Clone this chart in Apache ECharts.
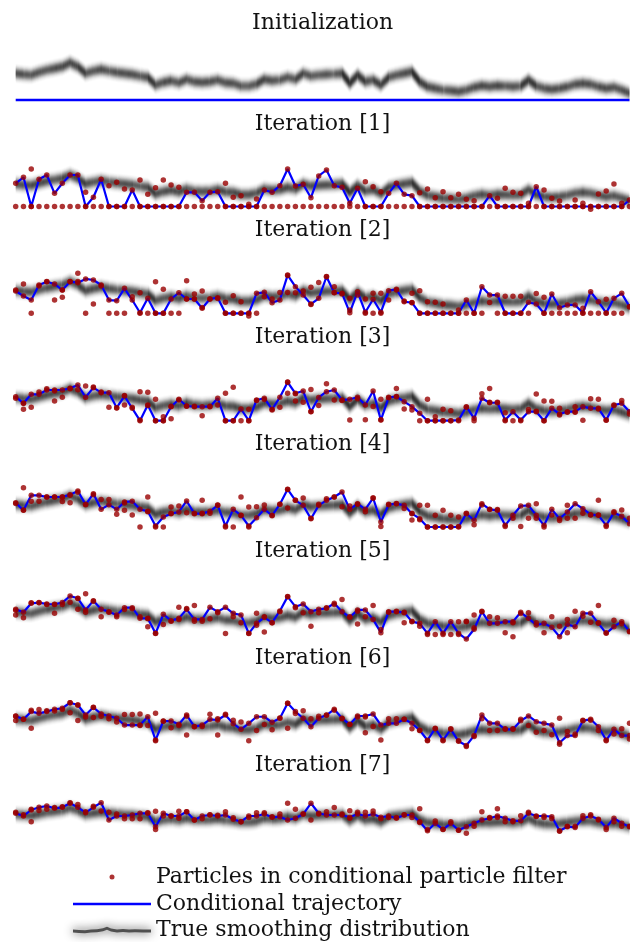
<!DOCTYPE html>
<html><head><meta charset="utf-8">
<script src="https://cdn.jsdelivr.net/npm/echarts@6/dist/echarts.min.js"></script>
<style>html,body{margin:0;padding:0;background:#fff}#c{width:630px;height:942px}</style>
</head><body><div id="c"></div>
<script>
const titles = ['Initialization','Iteration [1]','Iteration [2]','Iteration [3]','Iteration [4]','Iteration [5]','Iteration [6]','Iteration [7]'];
const legendNames = ['Particles in conditional particle filter','Conditional trajectory','True smoothing distribution'];

const band = [26.7,25.7,25,27.7,30,31.7,33.3,37.3,33.3,26.7,
 29,30.7,29,27.7,26.7,25.7,24,22.7,15,17.7,
 19.3,17.3,20.7,18.3,17.7,18.3,20,17.3,16.7,14,
 14,16,20.7,19.3,20,22.7,20.7,26.7,24,25,
 25.7,26,26.7,16.7,25,18.3,20,15,22.7,25,
 26.7,28.3,18.3,13.3,11.7,10,9.3,8.3,10,12.7,
 14.3,13.3,14.3,14,13.3,14,20,14,11.7,10.7,
 11.7,13.3,15.7,16.7,15.7,13.3,11.7,12.7,10,6.7];

const traj0 = [0,0,0,0,0,0,0,0,0,0, 0,0,0,0,0,0,0,0,0,0, 0,0,0,0,0,0,0,0,0,0, 0,0,0,0,0,0,0,0,0,0,
 0,0,0,0,0,0,0,0,0,0, 0,0,0,0,0,0,0,0,0,0, 0,0,0,0,0,0,0,0,0,0, 0,0,0,0,0,0,0,0,0,0];

const traj1 = [27.5,34.6,0,32.2,37.3,15.6,27.5,37.3,37.3,0,
 11,32.2,0,0,0,19.5,0,0,0,0,
 0,0,16.8,16.8,6.9,16.8,17.5,0,0,0,
 0,0,19.5,16.8,24.6,44.4,24.3,26.3,10.4,36.1,
 43.2,24.6,22.7,3.8,21.5,0,0,0,15.6,27.5,
 14.4,12.8,0,0,0,0,0,0,0,0,
 0,12.8,0,0,0,0,0,23.4,0,0,
 0,0,0,0,0,0,0,0,0,7.7];
const traj2 = [26.2,20.4,15.6,33.3,37.2,34.5,27.4,37.2,36,40.4,
 39.2,33.3,15.6,14.8,29.4,15.6,0.7,17.6,0,0,
 16.8,24.2,16.8,16.8,5.9,16.8,18.4,0,0,0,
 0,23.5,24.7,12.5,15.6,45,31.3,21.5,10.8,17.6,
 43,24.2,23.5,0.7,25.4,1.2,16.5,1.2,26.6,28.2,
 13.6,12.5,0,0,0,0,0,0,15.6,0,
 31.3,21.5,21.5,0,0,0,12.9,10.9,0,22.7,
 6.6,9.8,9.8,0.5,25.4,13.6,0.5,17.6,23.5,7.8];
const traj3 = [27.9,20.2,30.7,30.7,35.7,35.7,35.7,37.7,41.5,27.2,
 38.4,32.6,32.6,15.1,28.7,14.4,0,18.3,0,0,
 16.3,24.9,17.1,16.3,16.3,16.3,26.1,0,0,13.6,
 0,24.1,26.1,13.3,27.2,44.7,31.9,34.5,10.5,27,
 33.7,35.7,24.1,24.9,27.2,18.3,34.5,0.7,27.2,27.9,
 22.1,16.3,8.6,0,0,0,0,0.7,16.3,2.8,
 26.1,20.9,20.9,0.7,10.5,0.7,10.5,10.5,0,14.4,
 7.8,10.5,10.5,16.3,14.4,14.4,0.7,18.3,20.2,10.5];
const traj4 = [28.9,19.8,37.7,37.7,35.7,35.7,35.7,38.5,42.9,26.6,
 39.7,21,26.6,21,29.8,30.6,21,18.7,1.2,11.9,
 15.9,17.9,31,15.9,15.9,18.7,25.8,1.2,21,13.9,
 1.2,11.1,21,13.9,27,44.9,31.7,25.8,9.9,25.8,
 31.7,35.7,41.7,21,27.8,21,34.5,6,26.6,27.8,
 25.8,15.9,9.9,0,0,0,0,0,15.9,8,
 27.8,21,19.8,2,13.9,25,25.8,13.9,2,21,
 9.9,17.9,27.8,21.8,14.7,13.9,2,17.1,12.7,4];
const traj5 = [30,26.4,37.1,38,36.3,36,38,45.8,43.1,29.2,
 40.3,30,27.2,23.2,31.9,31.9,19.2,19.2,1.4,24,
 16.5,19.2,30,18,18,32.4,27.2,32.4,25.2,23.2,
 1.4,13.3,20.4,14.1,28,45.1,33.1,36.3,27.2,30,
 31.2,37.1,27.2,20.4,29.2,29.2,18,2.2,27.2,27.2,
 26.4,15.3,13.3,1.4,15.3,1.4,15.3,1.4,-5.4,6.2,
 27.2,13.3,13.3,15.3,15.3,26.4,19.2,11.3,13.3,8.5,
 -2.6,12.1,9.3,25.2,25.2,13.3,1.4,9.3,15.3,3.4];
const traj6 = [30.3,26.4,35.4,33.4,35.4,38.1,39.3,45.8,43.1,31.4,
 40.4,32.6,30.3,27.6,19.7,19.7,19.7,29.4,2.2,24.4,
 24.4,20.6,31.4,17.8,19.7,26.4,25.6,31.4,21.3,14.7,
 21.7,29.4,29.4,22.9,27.6,45.1,35.4,27.6,17.8,27.6,
 31.4,38.1,27.6,20.6,30.3,30.3,32.6,19.7,21.7,21.7,
 26.4,21.7,13.6,2,15.9,2.2,14.7,0.7,-4.1,7.4,
 31.4,21.7,21.7,14.7,14.7,24.8,30.3,23.6,21.7,19.7,
 -0.9,7.4,7.4,24.8,26.4,17.8,2.2,14.7,7.4,7.4];
const traj7 = [28.7,24.3,34.1,38.5,40.7,36.9,38.5,45.1,38.5,29.7,
 38.5,46.1,17.7,24.3,24.3,25.9,28.7,28.7,6.7,28.7,
 24.3,24.3,31.3,17.7,24.3,25.9,24.3,25.9,18.9,14.9,
 24.3,24.3,27.5,22.1,23.2,17.7,20.5,27.5,45.1,28.7,
 25.9,25.9,25.9,22.1,27.5,24.3,27.5,22.1,24.3,20.5,
 25.9,25.9,14.9,0.1,12.3,2.5,12.3,1.1,6.7,12.3,
 17.7,20.5,24.3,20.5,16.3,16.3,28.7,24.3,24.3,23.2,
 0.1,6.7,5.6,20.5,24.3,18.9,5.6,20.5,12.3,6.7];

const extra1 = [[2,44.4],[9,16.8],[12,24.6],[13,28.6],[14,20.7],[16,31.4],[17,14.4],[18,22.2],[19,31.4],[20,25.4],[21,22.7],[27,27.5],[28,10.9],[29,12.8],[30,2.6],[31,8.9],[45,29.4],[46,23.4],[47,17.5],[52,16.3],[53,20.7],[54,10.4],[55,17.5],[56,10.4],[57,14.4],[58,8.5],[59,6.9],[62,9.7],[63,21.5],[64,16.8],[65,15.6],[66,3.8],[68,19.5],[69,9.7],[70,6.5],[72,7.7],[73,3.8],[74,-3.3],[75,14.8],[76,18.3],[77,26.6],[78,3.8]];
const extra2 = [[6,18.8],[8,47],[16,24.2],[18,37.2],[19,28.2],[22,38.4],[23,22.7],[24,26.2],[27,12.9],[28,20.7],[29,13.6],[30,-3.2],[35,24.6],[38,30.6],[41,31.3],[43,17.6],[45,16.8],[46,23.5],[47,23.5],[51,23.5],[52,26.6],[53,13.6],[54,12.9],[55,10.9],[57,3.9],[63,20],[64,20],[65,20],[68,18.8],[73,5.9],[76,16.5]];
const extra3 = [[1,13.3],[5,22.9],[14,18.3],[16,33.7],[17,33],[18,24.9],[19,4.7],[20,2.3],[27,31.9],[28,38.8],[30,13.3],[35,31.9],[36,22.9],[38,36.2],[47,24.9],[49,37.4],[53,24.9],[54,4.7],[55,13.3],[56,11.6],[61,37.4],[63,9.3],[67,31.1],[68,22.9],[70,14.4],[72,16.3],[75,24.9]];
const extra4 = [[1,46.8],[6,30.3],[7,28.9],[14,19.8],[17,35.7],[20,23.8],[24,31.7],[29,35.7],[30,23.8],[35,22.6],[51,8.3],[52,25.8],[53,25.8],[54,13.9],[55,20],[56,13.9],[57,11.9],[67,27.8],[71,25.8],[75,31.7]];
const extra5 = [[0,23.2],[5,25.2],[8,30],[9,48.4],[17,9.3],[21,32.4],[23,34.5],[31,25.2],[32,2.9],[44,12.5],[50,14],[57,15.3],[58,15.3],[59,23.2],[64,-2.6],[71,2.2],[75,34.5]];
const extra6 = [[0,24.9],[2,15.9],[7,34.2],[8,24.9],[10,28.6],[16,32.6],[18,33.4],[22,8],[26,8],[35,15.9],[45,10.8],[70,27.6],[79,21.7]];
const extra7 = [[2,15],[18,32],[21,32],[43,33],[52,36],[62,36]];

const trajs = [traj0,traj1,traj2,traj3,traj4,traj5,traj6,traj7];
const extras = [[],extra1,extra2,extra3,extra4,extra5,extra6,extra7];

// layout (pixels)
const gridLeft = 15.7, gridWidth = 613.8;
const panelTop = [50,164.25,270.8,377.7,485,592.5,699.1,800.3];
const panelHeight = [60,50.7,51,51.6,50.4,50.4,51.4,36.6];
const titleCenter = [22,123,229,336,443,550,657,764];
const yLo = -10, yHi = 50;
const FONT = 'DejaVu Serif';

const grids = [], xAxes = [], yAxes = [], series = [], titleOpts = [];
const pairs = arr => arr.map((v, t) => [t, v]);

for (let p = 0; p < 8; p++) {
  grids.push({left: gridLeft, width: gridWidth, top: panelTop[p], height: panelHeight[p], outerBoundsMode: 'none', containLabel: false});
  xAxes.push({type: 'value', gridIndex: p, min: 0, max: 79, show: false});
  yAxes.push({type: 'value', gridIndex: p, min: yLo, max: yHi, show: false});
  titleOpts.push({text: titles[p], left: 322.6, textAlign: 'center', top: titleCenter[p] - 10, padding: 0,
    textStyle: {fontFamily: FONT, fontSize: 22, fontWeight: 'normal', color: '#111'}});
  // blurred band: stacked offset copies (vertical blur)
  const unitsPerPx = (yHi - yLo) / panelHeight[p];
  for (let k = -9; k <= 9; k++) {
    const a = 0.5 * Math.exp(-k * k / 24);
    series.push({
      type: 'line', name: (p === 0 && k === 0) ? legendNames[2] : undefined,
      xAxisIndex: p, yAxisIndex: p, silent: true, animation: false, z: 1,
      symbol: 'none', showSymbol: false, clip: false,
      itemStyle: {color: '#444'},
      lineStyle: {color: 'rgba(0,0,0,' + a.toFixed(3) + ')', width: 1.7},
      data: band.map((v, t) => [t, v + k * unitsPerPx])
    });
  }
  series.push({
    type: 'line', name: legendNames[1], xAxisIndex: p, yAxisIndex: p,
    animation: false, z: 2, symbol: 'none', showSymbol: false, clip: false,
    itemStyle: {color: '#0000ff'},
    lineStyle: {color: '#0000ff', width: p === 0 ? 2.6 : 2.2},
    data: pairs(trajs[p])
  });
  if (p > 0) {
    const pts = pairs(trajs[p - 1]).concat(pairs(trajs[p]), extras[p]);
    series.push({
      type: 'scatter', name: legendNames[0], xAxisIndex: p, yAxisIndex: p,
      animation: false, z: 3, clip: false, symbol: 'circle', symbolSize: 5.5,
      itemStyle: {color: '#990000'},
      data: pts
    });
  }
}

const legText = {fontFamily: FONT, fontSize: 22, color: '#111'};
const bandIcon = 'path://M0,3.5L6,4L12,4.2L18,3.6L24,3.2L30,2.2L34,0.8L38,2.4L44,3.4L50,3L56,3.4L62,3.2L70,3.4L78,3.6L78,6.6L70,6.4L62,6.2L56,6.4L50,6L44,6.4L38,5.4L34,3.8L30,5.2L24,6.2L18,6.6L12,7.2L6,7L0,6.5Z';
const lineIcon = 'path://M0,0L78,0L78,2.4L0,2.4Z';
const legends = [
  {data: [legendNames[0]], left: 109.5, top: 866, padding: 0, itemWidth: 5, itemHeight: 5, icon: 'circle',
   itemStyle: {color: '#990000'},
   textStyle: Object.assign({padding: [0, 0, 0, 36.5]}, legText), selectedMode: false},
  {data: [{name: legendNames[1], icon: lineIcon}], left: 73, top: 893, padding: 0, itemWidth: 78, itemHeight: 2.4,
   itemStyle: {color: '#0000ff'}, textStyle: legText, selectedMode: false},
  {data: [{name: legendNames[2], icon: bandIcon}], left: 73, top: 919, padding: 0, itemWidth: 78, itemHeight: 6.4,
   itemStyle: {color: '#505050', shadowBlur: 10, shadowColor: 'rgba(0,0,0,0.9)'},
   textStyle: legText, selectedMode: false}
];

const chart = echarts.init(document.getElementById('c'), null, {renderer: 'canvas'});
chart.setOption({
  backgroundColor: '#fff',
  animation: false,
  title: titleOpts,
  legend: legends,
  grid: grids, xAxis: xAxes, yAxis: yAxes,
  series: series
});
</script></body></html>
